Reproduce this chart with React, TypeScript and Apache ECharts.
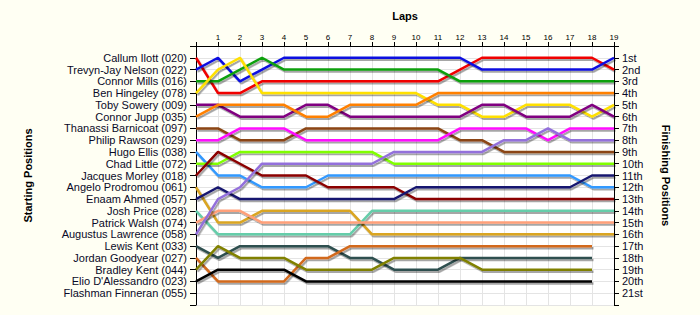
import React, { useEffect, useRef } from "react";
import * as echarts from "echarts";

const drivers = [
  "Callum Ilott (020)",
  "Trevyn-Jay Nelson (022)",
  "Connor Mills (016)",
  "Ben Hingeley (078)",
  "Toby Sowery (009)",
  "Connor Jupp (035)",
  "Thanassi Barnicoat (097)",
  "Philip Rawson (029)",
  "Hugo Ellis (038)",
  "Chad Little (072)",
  "Jacques Morley (018)",
  "Angelo Prodromou (061)",
  "Enaam Ahmed (057)",
  "Josh Price (028)",
  "Patrick Walsh (074)",
  "Augustus Lawrence (058)",
  "Lewis Kent (033)",
  "Jordan Goodyear (027)",
  "Bradley Kent (044)",
  "Elio D'Alessandro (023)",
  "Flashman Finneran (055)",
];

const finishLabels = [
  "1st", "2nd", "3rd", "4th", "5th", "6th", "7th", "8th", "9th", "10th",
  "11th", "12th", "13th", "14th", "15th", "16th", "17th", "18th", "19th", "20th", "21st",
];

const lapLabels = ["", "1", "2", "3", "4", "5", "6", "7", "8", "9", "10", "11", "12", "13", "14", "15", "16", "17", "18", "19"];

// positions per lap (lap 0 = start)
const ilott = [1, 4, 4, 3, 3, 3, 3, 3, 3, 3, 3, 3, 2, 1, 1, 1, 1, 1, 1, 2];
const nelson = [2, 1, 3, 2, 1, 1, 1, 1, 1, 1, 1, 1, 1, 2, 2, 2, 2, 2, 2, 1];
const mills = [3, 3, 2, 1, 2, 2, 2, 2, 2, 2, 2, 2, 3, 3, 3, 3, 3, 3, 3, 3];
const hingeley = [4, 2, 1, 4, 4, 4, 4, 4, 4, 4, 4, 5, 5, 6, 6, 5, 5, 5, 6, 5];
const sowery = [5, 5, 6, 6, 6, 5, 5, 6, 6, 6, 6, 6, 6, 5, 5, 6, 6, 6, 5, 6];
const jupp = [6, 5, 5, 5, 5, 6, 6, 5, 5, 5, 5, 4, 4, 4, 4, 4, 4, 4, 4, 4];
const barnicoat = [7, 7, 8, 8, 8, 7, 7, 7, 7, 7, 7, 7, 8, 8, 9, 9, 9, 9, 9, 9];
const rawson = [8, 8, 7, 7, 7, 8, 8, 8, 8, 8, 8, 8, 7, 7, 7, 7, 8, 7, 7, 7];
const ellis = [9, 11, 11, 12, 12, 12, 11, 11, 11, 11, 11, 11, 11, 11, 11, 11, 11, 11, 12, 12];
const little = [10, 10, 9, 9, 9, 9, 9, 9, 9, 10, 10, 10, 10, 10, 10, 10, 10, 10, 10, 10];
const morley = [11, 9, 10, 11, 11, 11, 12, 12, 12, 12, 13, 13, 13, 13, 13, 13, 13, 13, 13, 13];
const prodromou = [12, 15, 15, 14, 14, 14, 14, 14, 16, 16, 16, 16, 16, 16, 16, 16, 16, 16, 16, 16];
const ahmed = [13, 12, 13, 13, 13, 13, 13, 13, 13, 13, 12, 12, 12, 12, 12, 12, 12, 12, 11, 11];
const price = [14, 16, 16, 16, 16, 16, 16, 16, 14, 14, 14, 14, 14, 14, 14, 14, 14, 14, 14, 14];
const walsh = [15, 14, 14, 15, 15, 15, 15, 15, 15, 15, 15, 15, 15, 15, 15, 15, 15, 15, 15, 15];
const lawrence = [16, 13, 12, 10, 10, 10, 10, 10, 10, 9, 9, 9, 9, 9, 8, 8, 7, 8, 8, 8];
const lkent = [17, 18, 17, 17, 17, 17, 17, 18, 18, 19, 19, 19, 18, 18, 18, 18, 18, 18, 18];
const goodyear = [18, 20, 20, 20, 20, 18, 18, 17, 17, 17, 17, 17, 17, 17, 17, 17, 17, 17, 17];
const bkent = [19, 17, 18, 18, 18, 19, 19, 19, 19, 18, 18, 18, 18, 19, 19, 19, 19, 19, 19];
const dalessandro = [20, 19, 19, 19, 19, 20, 20, 20, 20, 20, 20, 20, 20, 20, 20, 20, 20, 20, 20];
const finneran: number[] = [];

const positions = [
  ilott, nelson, mills, hingeley, sowery, jupp, barnicoat, rawson, ellis, little, morley,
  prodromou, ahmed, price, walsh, lawrence, lkent, goodyear, bkent, dalessandro, finneran,
];

const colors = [
  "#F00000", "#0A10E0", "#10A010", "#FFE000", "#800080", "#FF8000", "#8B4513", "#FF10FF",
  "#3399FF", "#80FF00", "#8B0000", "#DAA520", "#191970", "#66CDAA", "#FFA07A", "#9370DB",
  "#2F4F4F", "#D2691E", "#808000", "#000000", "#999999",
];

const FONT = "'Liberation Sans', Arial, sans-serif";

export default function App() {
  const ref = useRef<HTMLDivElement>(null);
  useEffect(() => {
    document.body.style.margin = "0";
    const chart = echarts.init(ref.current!, undefined, { renderer: "svg" });
    const series = drivers.map((name, i) => ({
      name,
      type: "line",
      data: positions[i].map((p, lap) => [lap, p]),
      showSymbol: false,
      symbol: "none",
      z: 3,
      lineStyle: {
        color: colors[i],
        width: 2.5,
        shadowColor: "rgba(0,0,0,0.35)",
        shadowOffsetX: 1.5,
        shadowOffsetY: 2,
        shadowBlur: 1,
      },
      itemStyle: { color: colors[i] },
      emphasis: { disabled: true },
    }));
    chart.setOption({
      animation: false,
      backgroundColor: "#FFFFF3",
      textStyle: { fontFamily: FONT },
      grid: {
        left: 196,
        right: 86,
        top: 46,
        bottom: 10,
        show: true,
        backgroundColor: "#FFFFFF",
        borderWidth: 0,
      },
      xAxis: {
        type: "value",
        position: "top",
        min: 0,
        max: 19,
        interval: 1,
        name: "Laps",
        nameLocation: "middle",
        nameGap: 25,
        nameTextStyle: { fontWeight: "bold", fontSize: 11, color: "#000", fontFamily: FONT },
        axisLine: { show: true, lineStyle: { color: "#000", width: 1 } },
        axisTick: { show: true, length: 4, lineStyle: { color: "#000" } },
        axisLabel: {
          fontSize: 8,
          color: "#000",
          margin: 5,
          fontFamily: FONT,
          formatter: (v: number) => lapLabels[v] ?? "",
        },
        splitLine: { show: true, lineStyle: { color: "#E4E4E4", width: 1 } },
      },
      yAxis: [
        {
          type: "value",
          position: "left",
          min: 0,
          max: 22,
          interval: 1,
          inverse: true,
          name: "Starting Positions",
          nameLocation: "middle",
          nameGap: 163,
          nameRotate: 90,
          nameTextStyle: { fontWeight: "bold", fontSize: 11, color: "#000", fontFamily: FONT },
          axisLine: { show: true, onZero: false, lineStyle: { color: "#000", width: 1 } },
          axisTick: { show: true, length: 6, lineStyle: { color: "#000" } },
          axisLabel: {
            fontSize: 11,
            color: "#0A0A28",
            margin: 9,
            fontFamily: FONT,
            formatter: (v: number) => drivers[v - 1] ?? "",
          },
          splitLine: { show: true, lineStyle: { color: "#E4E4E4", width: 1 } },
        },
        {
          type: "value",
          position: "right",
          min: 0,
          max: 22,
          interval: 1,
          inverse: true,
          name: "Finishing Positions",
          nameLocation: "middle",
          nameGap: 46,
          nameRotate: -90,
          nameTextStyle: { fontWeight: "bold", fontSize: 11, color: "#000", fontFamily: FONT },
          axisLine: { show: true, onZero: false, lineStyle: { color: "#000", width: 1 } },
          axisTick: { show: true, length: 5, lineStyle: { color: "#000" } },
          axisLabel: {
            fontSize: 11,
            color: "#0A0A28",
            margin: 8,
            fontFamily: FONT,
            formatter: (v: number) => finishLabels[v - 1] ?? "",
          },
          splitLine: { show: false },
        },
      ],
      series,
    });
    return () => chart.dispose();
  }, []);
  return <div ref={ref} style={{ width: 700, height: 315 }} />;
}
